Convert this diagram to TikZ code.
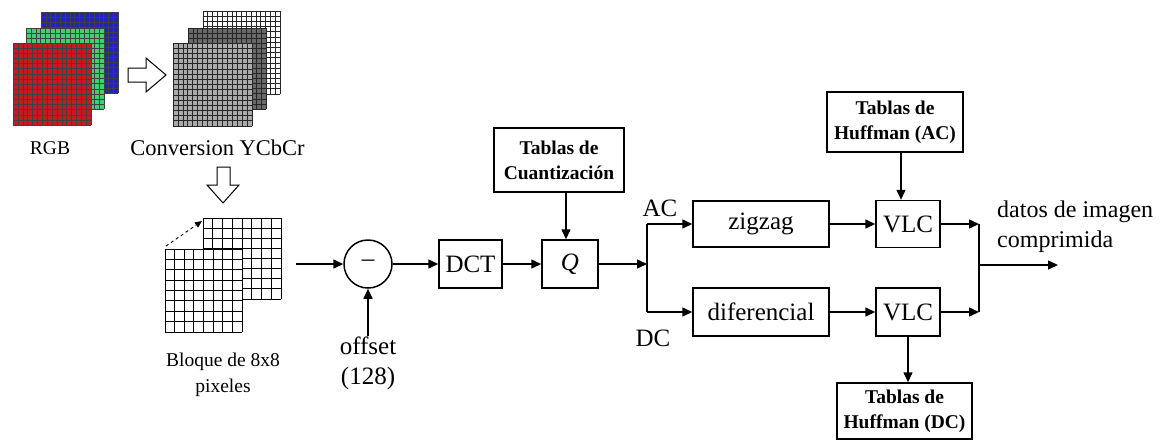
\documentclass[tikz,border=0pt]{standalone}
\usepackage{fontspec}
\setmainfont{Liberation Serif}
\usetikzlibrary{arrows.meta,calc}

\definecolor{pixred}{RGB}{200,25,35}
\definecolor{pixgreen}{RGB}{70,205,115}
\definecolor{pixblue}{RGB}{35,35,185}
\definecolor{pixdark}{RGB}{105,105,105}
\definecolor{pixlight}{RGB}{170,170,170}

\tikzset{
  pics/pixgrid/.style args={#1/#2/#3/#4/#5}{code={
    \fill[#4] (0,0) rectangle (#1,#2);
    \foreach \k in {0,...,#3}{
      \draw[#5] ({\k*#1/#3},0) -- ++(0,#2);
      \draw[#5] (0,{\k*#2/#3}) -- ++(#1,0);
    }
  }},
  stage/.style={draw, line width=1.5pt, inner sep=0pt, font=\fontsize{25}{30}\selectfont},
  tablebox/.style={draw, line width=1.5pt, inner sep=0pt, align=center,
    font=\fontsize{19.5}{25}\selectfont\bfseries},
  arr/.style={line width=1.5pt, -{Triangle[length=10pt,width=9pt]}},
  flowline/.style={line width=1.5pt},
  label/.style={inner sep=0pt, font=\fontsize{25}{30}\selectfont},
  hollow/.style={draw, line width=1pt, fill=white},
}

\begin{document}
\begin{tikzpicture}[x=1pt,y=-1pt]
\useasboundingbox (0,0) rectangle (1162,445);

% RGB colour planes
\pic at (41,12) {pixgrid={77/81/16/pixblue/{black!75,line width=0.5pt}}};
\pic at (26,28) {pixgrid={78/81/16/pixgreen/{black!75,line width=0.5pt}}};
\pic at (13,43) {pixgrid={78/82/16/pixred/{black!75,line width=0.5pt}}};
\node[inner sep=0pt, font=\fontsize{19.5}{24}\selectfont] (rgb) at (50,148) {RGB};

% conversion arrow
\draw[hollow] (128,68) -- (146,68) -- (146,58) -- (166,75) -- (146,92) -- (146,82) -- (128,82) -- cycle;

% Y, Cb, Cr planes
\pic at (203,11) {pixgrid={77/83/16/white/{black!85,line width=0.7pt}}};
\pic at (188,28) {pixgrid={78/81/16/pixdark/{black!85,line width=0.7pt}}};
\pic at (173,43) {pixgrid={79/83/16/pixlight/{black!85,line width=0.7pt}}};
\node[inner sep=0pt, font=\fontsize{22.5}{27}\selectfont] (ycc) at (217.5,148) {Conversion YCbCr};

% splitting arrow
\draw[hollow] (217,167) -- (230,167) -- (230,185) -- (239,185) -- (223,203) -- (207,185) -- (217,185) -- cycle;

% 8x8 blocks
\pic at (203,218) {pixgrid={78/81/8/white/{black,line width=0.9pt}}};
\pic at (165,249) {pixgrid={77/83/8/white/{black,line width=0.9pt}}};
\coordinate (bfrom) at (166,246);
\coordinate (bto) at (202,221);
\draw[dashed, line width=0.9pt, -{Triangle[length=7pt,width=6pt]}] (bfrom) -- (bto);
\node[inner sep=0pt, align=center, font=\fontsize{19.5}{26}\selectfont] (blq) at (223,375) {Bloque de 8x8\\pixeles};

% main chain
\coordinate (in) at (296,264);
\node[draw, circle, line width=1.5pt, minimum size=48pt, inner sep=0pt,
  font=\fontsize{25}{30}\selectfont] (sub) at (368,264) {\raisebox{1pt}{–}};
\node[label, align=center] (off) at (368,363) {offset\\(128)};
\node[stage, minimum width=63pt, minimum height=48pt] (dct) at (470.5,264) {DCT};
\node[stage, minimum width=56pt, minimum height=48pt] (q) at (570,264) {\textit{Q}};
\node[tablebox, minimum width=130pt, minimum height=64pt] (tq) at (559,160) {Tablas de\\Cuantización};

\draw[arr] (in) -- (sub.west);
\draw[arr] (off.north) -- (sub.south);
\draw[arr] (sub.east) -- (dct.west);
\draw[arr] (dct.east) -- (q.west);
\draw[arr] (tq.south -| 566,0) -- (q.north -| 566,0);

% AC / DC split
\coordinate (split) at (647,264);
\coordinate (splitT) at (647,224);
\coordinate (splitB) at (647,312);
\node[stage, minimum width=136pt, minimum height=46pt] (zz) at (761,224) {zigzag};
\node[stage, minimum width=136pt, minimum height=48pt] (dif) at (761,312) {diferencial};
\node[label] (ac) at (660,208) {AC};
\node[label] (dc) at (653,338) {DC};

\draw[arr] (q.east) -- (split);
\draw[flowline] (splitT) -- (splitB);
\draw[arr] (splitT) -- (zz.west);
\draw[arr] (splitB) -- (dif.west);

% entropy coding
\node[stage, minimum width=64pt, minimum height=47pt] (vlca) at (908,224) {VLC};
\node[stage, minimum width=64pt, minimum height=48pt] (vlcd) at (908,312) {VLC};
\node[tablebox, minimum width=136pt, minimum height=60pt] (hac) at (895,122) {Tablas de\\Huffman (AC)};
\node[tablebox, minimum width=135pt, minimum height=56pt] (hdc) at (904.5,411) {Tablas de\\Huffman (DC)};

\draw[arr] (zz.east) -- (vlca.west);
\draw[arr] (dif.east) -- (vlcd.west);
\draw[arr] (hac.south -| 901,0) -- (vlca.north -| 901,0);
\draw[arr] (vlcd.south) -- (vlcd.south |- hdc.north);

% merge and output
\coordinate (mT) at (979,224);
\coordinate (mB) at (979,312);
\coordinate (mO) at (979,265);
\coordinate (out) at (1058,265);
\draw[arr] (vlca.east) -- (mT);
\draw[arr] (vlcd.east) -- (mB);
\draw[flowline] (mT) -- (mB);
\draw[arr] (mO) -- (out);
\node[label, anchor=west, align=left, font=\fontsize{24}{30}\selectfont] (datos) at (997,227) {datos de imagen\\comprimida};

\end{tikzpicture}
\end{document}
